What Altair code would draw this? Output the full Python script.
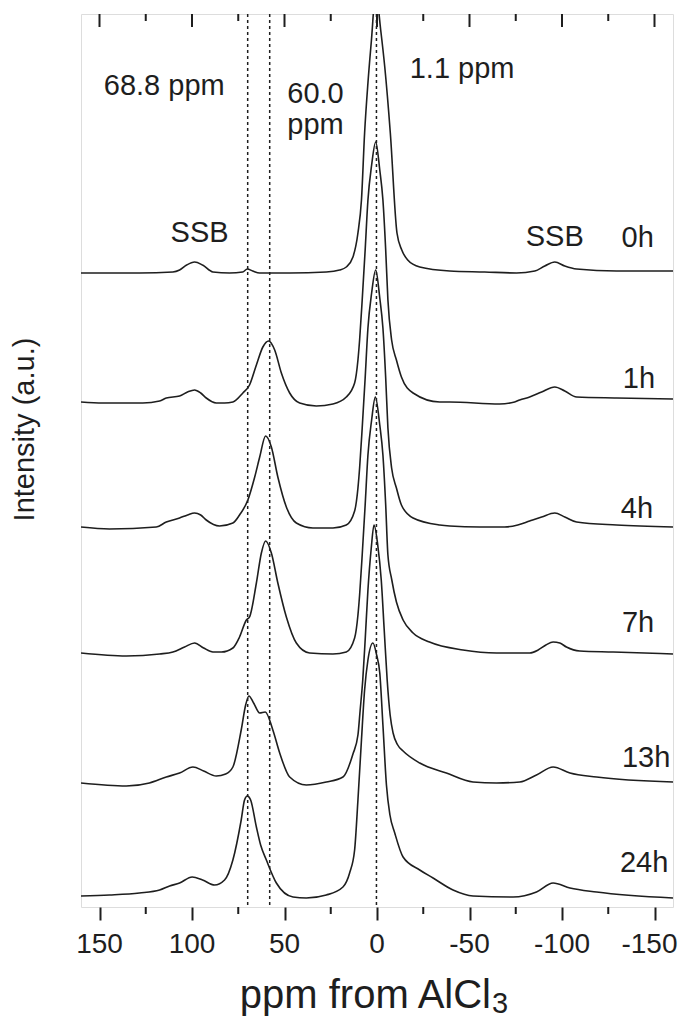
import altair as alt
import pandas as pd

# ---- spectra (ppm from AlCl3, intensity in arbitrary units incl. stacking offset) ----
PPM_0H = [160, 148.4, 128.4, 110.3, 106.7, 102.9, 98.6, 94.3, 88.7, 79.7, 72.6, 70.1, 67.2, 63.4,
          47.2, 27.4, 20.2, 16.6, 13.0, 10.3, 8.4, 6.7, 4.9, 3.0, 0.7, -2.0, -4.2, -7.2, -10.8,
          -13.4, -16.6, -23.1, -39.3, -58.2, -75.4, -85.3, -90.7, -96.1, -101.5, -107.9, -129.5, -160]
INT_0H = [634, 634, 634, 635, 637, 642, 645, 642, 635, 634, 635, 638, 636, 634,
          634, 635, 637, 640, 650, 674, 707, 774, 824, 867, 915, 877, 840, 774, 674,
          657, 647, 640, 636, 635, 634, 636, 641, 645, 641, 638, 636, 636]

PPM_1H = [160, 148.2, 126.6, 117.5, 113.9, 106.7, 102.4, 98.6, 95.3, 92.3, 86.9, 82.4, 77.9, 72.5,
          68.9, 65.2, 61.7, 58.6, 55.3, 51.7, 47.2, 41.8, 32.8, 23.8, 16.6, 12.1, 10.3, 9.4, 8.0,
          6.4, 4.9, 2.9, 0.7, -1.5, -3.2, -4.7, -5.9, -7.9, -10.5, -13.2, -19.5, -33.9, -39.3,
          -66.3, -74.4, -77.1, -82.5, -89.0, -96.1, -101.5, -107.9, -129.5, -160]
INT_1H = [505, 504, 504, 506, 509, 511, 515, 517, 514, 509, 504, 504, 505, 514,
          522, 542, 560, 566, 557, 534, 514, 504, 501, 503, 510, 524, 547, 567, 607,
          657, 707, 742, 765, 737, 707, 657, 607, 567, 547, 530, 514, 505, 505,
          503, 505, 507, 510, 515, 520, 516, 510, 509, 508]

PPM_4H = [160, 144.6, 119.3, 113.9, 106.7, 102.4, 98.6, 95.3, 92.3, 85.1, 77.9, 74.3, 69.8, 66.1,
          63.4, 60.2, 57.1, 53.6, 49.0, 43.6, 34.6, 23.8, 16.6, 12.1, 10.3, 9.4, 8.0, 6.4, 4.9,
          2.9, 0.7, -1.5, -3.2, -4.7, -5.9, -7.9, -10.5, -13.2, -19.5, -33.9, -39.3, -55.5,
          -69.0, -76.1, -82.5, -89.0, -96.1, -101.5, -107.9, -129.5, -160]
INT_4H = [380, 378, 380, 385, 389, 392, 394, 392, 387, 381, 384, 392, 407, 430,
          450, 471, 460, 430, 400, 384, 379, 379, 382, 396, 419, 439, 479, 529, 579,
          614, 637, 609, 579, 529, 479, 439, 419, 402, 389, 382, 381, 380,
          380, 382, 386, 390, 394, 390, 385, 382, 380]

PPM_7H = [160, 135.5, 117.5, 110.3, 104.0, 98.6, 93.7, 88.7, 84.0, 77.9, 74.3, 70.6, 68.9, 65.2,
          62.5, 60.2, 57.1, 53.6, 49.0, 43.6, 36.4, 23.8, 16.6, 12.1, 10.3, 9.4, 8.0, 6.4, 4.9,
          2.9, 0.9, -1.5, -3.2, -4.7, -5.9, -7.9, -10.5, -14.1, -19.5, -28.4, -46.5, -64.6,
          -82.6, -87.1, -91.3, -95.2, -98.8, -102.4, -109.6, -127.7, -160]
INT_7H = [254, 251, 253, 255, 260, 264, 259, 255, 255, 259, 270, 287, 290, 324,
          354, 366, 354, 324, 290, 264, 254, 253, 255, 269, 292, 312, 352, 402, 452,
          487, 510, 482, 452, 402, 352, 328, 305, 287, 274, 265, 257, 254,
          254, 257, 262, 265, 264, 260, 256, 255, 253]

PPM_13H = [160, 135.5, 123.0, 113.9, 106.7, 99.5, 93.7, 86.9, 81.8, 77.9, 73.4, 71.0, 69.2, 66.7,
           63.4, 60.4, 56.3, 52.6, 47.2, 38.2, 27.4, 18.4, 13.0, 10.3, 9.1, 7.7, 6.4, 4.9, 3.1,
           1.6, -0.4, -2.3, -3.9, -5.5, -7.1, -8.7, -11.2, -14.1, -23.1, -37.5, -51.9, -64.6,
           -77.2, -86.2, -95.2, -104.3, -118.7, -160]
INT_13H = [124, 121, 124, 130, 134, 140, 136, 131, 133, 140, 177, 202, 211, 204,
           194, 195, 177, 154, 130, 122, 125, 130, 153, 172, 197, 227, 267, 317, 359,
           382, 362, 327, 277, 227, 192, 174, 162, 156, 144, 134, 125, 124,
           125, 132, 140, 134, 130, 125]

PPM_24H = [160, 144.6, 128.4, 117.5, 112.1, 106.7, 99.9, 94.3, 87.8, 82.4, 77.9, 73.4, 71.6, 70.1,
           68.3, 65.2, 62.9, 59.8, 54.4, 45.4, 38.2, 27.4, 18.4, 14.8, 12.1, 10.3, 8.4, 6.7, 4.9,
           2.2, 0.2, -1.5, -3.2, -5.1, -7.0, -9.6, -14.1, -23.1, -30.3, -41.1, -51.9, -73.6,
           -86.2, -95.2, -104.3, -118.7, -160]
INT_24H = [11, 12, 14, 17, 21, 24, 30, 27, 22, 27, 47, 87, 107, 111,
           107, 80, 62, 47, 24, 10, 9, 12, 20, 34, 57, 107, 167, 217, 247,
           264, 252, 234, 182, 122, 92, 74, 50, 37, 29, 17, 11, 10,
           15, 24, 19, 15, 9]

TRACES = ["0h", "1h", "4h", "7h", "13h", "24h"]
TRACE_PPM = [PPM_0H, PPM_1H, PPM_4H, PPM_7H, PPM_13H, PPM_24H]
TRACE_INT = [INT_0H, INT_1H, INT_4H, INT_7H, INT_13H, INT_24H]

# ---- axis ticks, tick labels and reference lines ----
MAJOR_TICKS = [150, 100, 50, 0, -50, -100, -150]
TICK_LABELS = ["150", "100", "50", "0", "-50", "-100", "-150"]
MINOR_TICKS = [125, 75, 25, -25, -75, -125]
MARKER_LINES = [69.9, 58.0, 0.3]

# ---- annotations (anchored in data units) ----
ANNOT_TEXT = ["68.8 ppm", "60.0", "ppm", "1.1 ppm", "SSB", "SSB",
              "0h", "1h", "4h", "7h", "13h", "24h"]
ANNOT_PPM = [147.7, 48.5, 48.5, -17.7, 111.6, -80.4,
             -132.2, -132.9, -131.8, -132.4, -132.4, -131.3]
ANNOT_INT = [812, 804, 773, 829, 665, 661, 660, 519, 389, 275, 140, 35]

rows = []
for name, px, iy in zip(TRACES, TRACE_PPM, TRACE_INT):
    for p, v in zip(px, iy):
        rows.append({"trace": name, "ppm": p, "intensity": v})
spec_df = pd.DataFrame(rows)

W, H = 592, 893
FONT = "Liberation Sans"
INK = "#1e1e1e"

xs = alt.Scale(domain=[-160, 160], reverse=True, nice=False, zero=False)
ys = alt.Scale(domain=[0, 893], nice=False, zero=False)

spectra = alt.Chart(spec_df).mark_line(
    color=INK, strokeWidth=1.6, clip=True, interpolate="monotone"
).encode(
    x=alt.X("ppm:Q", scale=xs,
            axis=alt.Axis(values=MAJOR_TICKS, title=None, tickSize=13, tickWidth=2,
                          tickColor=INK, labels=False, domain=False, grid=False)),
    y=alt.Y("intensity:Q", scale=ys,
            axis=alt.Axis(title="Intensity (a.u.)", ticks=False, labels=False, domain=False,
                          grid=False, titleFontSize=29, titleFont=FONT, titleFontWeight="normal",
                          titleColor=INK, titleX=-57, titleY=415, titleAlign="center",
                          titleBaseline="middle", titleAngle=270)),
    detail="trace:N",
)

tick_df = pd.DataFrame({"ppm": MAJOR_TICKS, "label": TICK_LABELS})
tick_labels = alt.Chart(tick_df.iloc[:-1]).mark_text(
    font=FONT, fontSize=28, color=INK, align="center", baseline="top"
).encode(x=alt.X("ppm:Q", scale=xs), y=alt.value(H + 24), text="label:N")
tick_label_last = alt.Chart(tick_df.iloc[-1:]).mark_text(
    font=FONT, fontSize=28, color=INK, align="right", baseline="top", dx=23
).encode(x=alt.X("ppm:Q", scale=xs), y=alt.value(H + 24), text="label:N")

markers = alt.Chart(pd.DataFrame({"ppm": MARKER_LINES})).mark_rule(
    color=INK, strokeWidth=1.5, strokeDash=[3, 3]
).encode(x=alt.X("ppm:Q", scale=xs), y=alt.value(0), y2=alt.value(H))

top_major = alt.Chart(pd.DataFrame({"ppm": MAJOR_TICKS})).mark_rule(
    color=INK, strokeWidth=2).encode(x=alt.X("ppm:Q", scale=xs), y=alt.value(0), y2=alt.value(13))
top_minor = alt.Chart(pd.DataFrame({"ppm": MINOR_TICKS})).mark_rule(
    color=INK, strokeWidth=2).encode(x=alt.X("ppm:Q", scale=xs), y=alt.value(0), y2=alt.value(7))
bot_minor = alt.Chart(pd.DataFrame({"ppm": MINOR_TICKS})).mark_rule(
    color=INK, strokeWidth=2).encode(x=alt.X("ppm:Q", scale=xs), y=alt.value(H), y2=alt.value(H + 7))

annot = alt.Chart(pd.DataFrame({"ppm": ANNOT_PPM, "intensity": ANNOT_INT, "label": ANNOT_TEXT})).mark_text(
    font=FONT, fontSize=29, color=INK, align="left", baseline="alphabetic"
).encode(x=alt.X("ppm:Q", scale=xs), y=alt.Y("intensity:Q", scale=ys), text="label:N")

title_main = alt.Chart(pd.DataFrame({"t": ["ppm from AlCl"]})).mark_text(
    font=FONT, fontSize=40, color=INK, align="right", baseline="alphabetic"
).encode(text="t:N", x=alt.value(410), y=alt.value(994))
title_sub = alt.Chart(pd.DataFrame({"t": ["3"]})).mark_text(
    font=FONT, fontSize=29, color=INK, align="left", baseline="alphabetic"
).encode(text="t:N", x=alt.value(411), y=alt.value(999))

chart = alt.layer(
    markers, spectra, top_major, top_minor, bot_minor, tick_labels, tick_label_last,
    annot, title_main, title_sub
).properties(
    width=W, height=H,
    autosize=alt.AutoSizeParams(type="none"),
    padding={"left": 73, "top": 6, "right": 8, "bottom": 113},
).configure_view(
    stroke=INK, strokeWidth=2
).configure(font=FONT)

chart.save("out.html", embed_options={"renderer": "svg", "actions": False})
